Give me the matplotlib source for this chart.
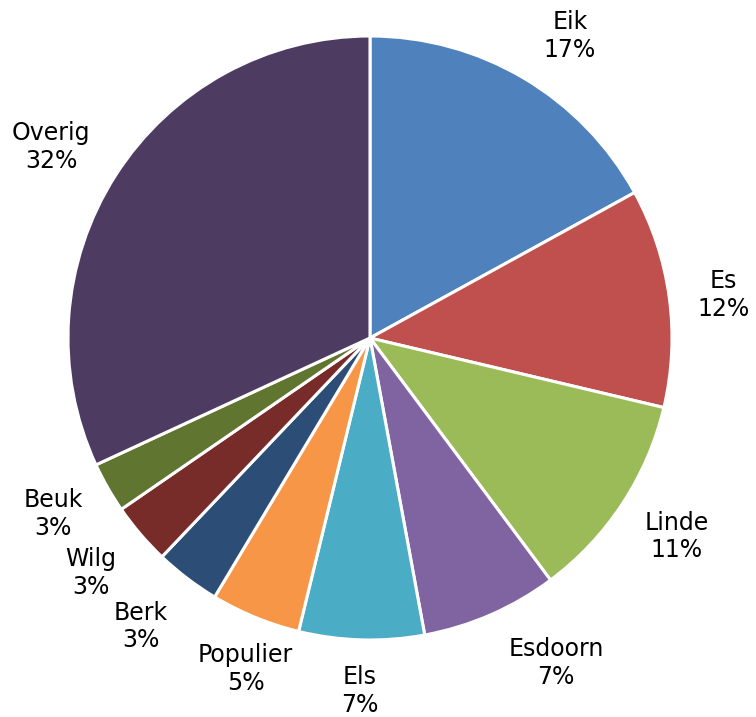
import numpy as np
import matplotlib.pyplot as plt

# --- Data ---
species = ['Eik', 'Es', 'Linde', 'Esdoorn', 'Els', 'Populier', 'Berk', 'Wilg', 'Beuk', 'Overig']
shares = [17.0, 11.7, 11.1, 7.3, 6.7, 4.8, 3.5, 3.3, 2.7, 31.9]
pct_labels = ['17%', '12%', '11%', '7%', '7%', '5%', '3%', '3%', '3%', '32%']
colors = ['#4F81BD', '#C0504D', '#9BBB59', '#8064A2', '#4BACC6',
          '#F79646', '#2C4D75', '#772C2A', '#5F7530', '#4D3B62']

# label placement: distance from centre (in radii) and angle nudge (deg)
label_dist = [1.20, 1.18, 1.21, 1.24, 1.17, 1.17, 1.22, 1.21, 1.20, 1.23]
label_nudge = [-2.9, -0.8, 0.4, 6.2, 0.0, 1.7, -1.2, -0.4, -0.6, 1.7]

# --- Figure ---
W, H = 756, 717
fig = plt.figure(figsize=(W / 100, H / 100), dpi=100)
cx, cy, r = 370, 338, 302
ax = fig.add_axes([(cx - r) / W, (H - cy - r) / H, 2 * r / W, 2 * r / H])

wedges, _ = ax.pie(shares, colors=colors, startangle=90, counterclock=False,
                   radius=1.0, wedgeprops=dict(edgecolor='white', linewidth=2.2))
# pie sets its own limits, so fix them afterwards
ax.set_xlim(-1, 1)
ax.set_ylim(-1, 1)
ax.set_aspect('equal')
ax.axis('off')

for w, name, pct, d, nudge in zip(wedges, species, pct_labels, label_dist, label_nudge):
    ang = np.deg2rad((w.theta1 + w.theta2) / 2 + nudge)
    ax.text(d * np.cos(ang), d * np.sin(ang), f'{name}\n{pct}',
            ha='center', va='center', fontsize=17, linespacing=1.2,
            family='DejaVu Sans', color='black', clip_on=False)

fig.savefig('out.png', dpi=100)
